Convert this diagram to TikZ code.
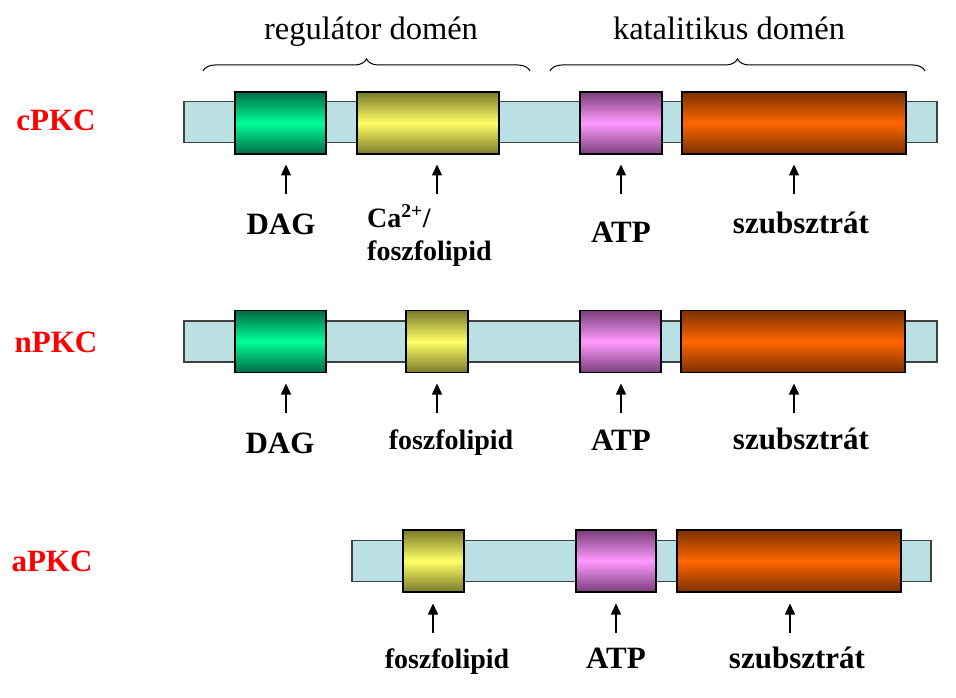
\documentclass[tikz,border=0pt]{standalone}
\usepackage{fontspec}
\setmainfont{Liberation Serif}
\usetikzlibrary{decorations.pathreplacing,arrows.meta}
\definecolor{bb}{HTML}{BBE0E3}
\definecolor{gdk}{HTML}{006B45}\definecolor{glt}{HTML}{00FF99}
\definecolor{ydk}{HTML}{7A7A2A}\definecolor{ylt}{HTML}{FFFF66}
\definecolor{pdk}{HTML}{7A3F7A}\definecolor{plt}{HTML}{FF99FF}
\definecolor{odk}{HTML}{7A3000}\definecolor{olt}{HTML}{FF6600}
\tikzset{
  backbone/.style={draw=black!75,line width=1.2pt,fill=bb,inner sep=0pt,minimum height=41pt},
  blk/.style={draw=black,line width=1.2pt,inner sep=0pt,minimum height=62pt},
  grn/.style={blk,top color=gdk,bottom color=gdk,middle color=glt},
  ylw/.style={blk,top color=ydk,bottom color=ydk,middle color=ylt},
  prp/.style={blk,top color=pdk,bottom color=pdk,middle color=plt},
  org/.style={blk,top color=odk,bottom color=odk,middle color=olt},
  arr/.style={line width=1.5pt,-{Triangle[length=11pt,width=10pt]}},
  lbl/.style={font=\bfseries\fontsize{31}{36}\selectfont,anchor=base,inner sep=0pt},
  slbl/.style={font=\bfseries\fontsize{28}{33}\selectfont,anchor=base,inner sep=0pt},
  pkc/.style={font=\bfseries\fontsize{31}{36}\selectfont,text=red,anchor=base,inner sep=0pt},
  hdr/.style={font=\fontsize{32.5}{38}\selectfont,anchor=base,inner sep=0pt},
  brc/.style={decorate,decoration={brace,amplitude=12pt},line width=1pt}
}
\begin{document}
\begin{tikzpicture}[x=1pt,y=-1pt]
\useasboundingbox (0,0) rectangle (956,698);
% headers
\node[hdr] (hreg) at (371,40) {regulátor domén};
\node[hdr] (hkat) at (729,40) {katalitikus domén};
\coordinate (b1s) at (203,71); \coordinate (b1e) at (530,71);
\coordinate (b2s) at (550,71); \coordinate (b2e) at (925,71);
\draw[brc] (b1s) -- (b1e);
\draw[brc] (b2s) -- (b2e);
% row labels
\node[pkc] (lc) at (56,131) {cPKC};
\node[pkc] (ln) at (56,352) {nPKC};
\node[pkc] (la) at (52,571) {aPKC};
% row 1
\node[backbone,minimum width=753pt] (c1bb) at (560.5,122) {};
\node[grn,minimum width=91pt] (c1dag) at (280.5,123) {};
\node[ylw,minimum width=142pt] (c1ca) at (428,123) {};
\node[prp,minimum width=82pt] (c1atp) at (621,123) {};
\node[org,minimum width=224pt] (c1sub) at (794,123) {};
\coordinate (c1a1) at (286,194); \coordinate (c1t1) at (286,164.5);
\coordinate (c1a2) at (437,194); \coordinate (c1t2) at (437,164.5);
\coordinate (c1a3) at (621,194); \coordinate (c1t3) at (621,164.5);
\coordinate (c1a4) at (794,194); \coordinate (c1t4) at (794,164.5);
\draw[arr] (c1a1) -- (c1t1);
\draw[arr] (c1a2) -- (c1t2);
\draw[arr] (c1a3) -- (c1t3);
\draw[arr] (c1a4) -- (c1t4);
\node[lbl] (c1l1) at (281,234) {DAG};
\node[slbl,anchor=base west] (c1l2a) at (367,227) {Ca\textsuperscript{2+}/};
\node[slbl,anchor=base west] (c1l2b) at (367,260) {foszfolipid};
\node[lbl] (c1l3) at (621,242) {ATP};
\node[lbl] (c1l4) at (801,233) {szubsztrát};
% row 2
\node[backbone,minimum width=753pt] (n1bb) at (560.5,341.5) {};
\node[grn,minimum width=91pt] (n1dag) at (280.5,341.5) {};
\node[ylw,minimum width=62pt] (n1fos) at (437,341.5) {};
\node[prp,minimum width=81pt] (n1atp) at (620.5,341.5) {};
\node[org,minimum width=224pt] (n1sub) at (793,341.5) {};
\coordinate (n1a1) at (286,413); \coordinate (n1t1) at (286,383.5);
\coordinate (n1a2) at (437,413); \coordinate (n1t2) at (437,383.5);
\coordinate (n1a3) at (621,413); \coordinate (n1t3) at (621,383.5);
\coordinate (n1a4) at (794,413); \coordinate (n1t4) at (794,383.5);
\draw[arr] (n1a1) -- (n1t1);
\draw[arr] (n1a2) -- (n1t2);
\draw[arr] (n1a3) -- (n1t3);
\draw[arr] (n1a4) -- (n1t4);
\node[lbl] (n1l1) at (280,453) {DAG};
\node[slbl] (n1l2) at (451,449) {foszfolipid};
\node[lbl] (n1l3) at (621,450) {ATP};
\node[lbl] (n1l4) at (801,449) {szubsztrát};
% row 3
\node[backbone,minimum width=579pt] (a1bb) at (641.5,561) {};
\node[ylw,minimum width=61pt] (a1fos) at (433.5,561) {};
\node[prp,minimum width=80pt] (a1atp) at (616,561) {};
\node[org,minimum width=224pt] (a1sub) at (789,561) {};
\coordinate (a1a2) at (433,633); \coordinate (a1t2) at (433,603.5);
\coordinate (a1a3) at (616,633); \coordinate (a1t3) at (616,603.5);
\coordinate (a1a4) at (790,633); \coordinate (a1t4) at (790,603.5);
\draw[arr] (a1a2) -- (a1t2);
\draw[arr] (a1a3) -- (a1t3);
\draw[arr] (a1a4) -- (a1t4);
\node[slbl] (a1l2) at (447,668) {foszfolipid};
\node[lbl] (a1l3) at (616,668) {ATP};
\node[lbl] (a1l4) at (797,668) {szubsztrát};
\end{tikzpicture}
\end{document}
